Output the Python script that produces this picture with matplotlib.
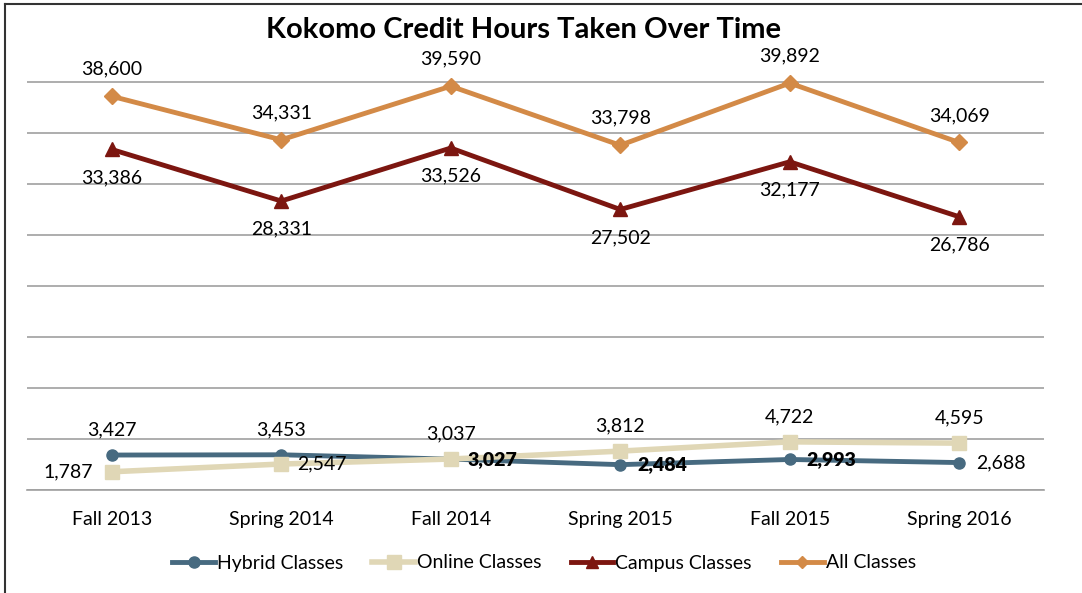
import matplotlib.pyplot as plt
from matplotlib.lines import Line2D

# terms and credit hours
terms = ["Fall 2013", "Spring 2014", "Fall 2014", "Spring 2015", "Fall 2015", "Spring 2016"]
hybrid = [3427, 3453, 3027, 2484, 2993, 2688]
online = [1787, 2547, 3037, 3812, 4722, 4595]
campus = [33386, 28331, 33526, 27502, 32177, 26786]
all_classes = [38600, 34331, 39590, 33798, 39892, 34069]

# where each data label sits: (dx px, dy px, ha, bold)
hybrid_pos = [(0, 25, "center", False), (0, 25, "center", False), (17, 0, "left", True),
              (17, 0, "left", True), (17, 0, "left", True), (17, 0, "left", False)]
online_pos = [(-19, 0, "right", False), (16, 0, "left", False), (0, 25, "center", False),
              (0, 25, "center", False), (0, 25, "center", False), (0, 25, "center", False)]

plt.rcParams['font.family'] = ['Lato', 'DejaVu Sans']

fig = plt.figure(figsize=(10.82, 5.93), dpi=100)
ax = fig.add_axes([27 / 1082, 1 - 490 / 593, (1044 - 27) / 1082, 459 / 593])

x = list(range(len(terms)))
c_h, c_o, c_c, c_a = "#476a80", "#e0d7b6", "#7c1610", "#d38a47"

ax.plot(x, hybrid, color=c_h, lw=3.5, marker="o", ms=8, zorder=3)
ax.plot(x, online, color=c_o, lw=4, marker="s", ms=10, zorder=4)
ax.plot(x, campus, color=c_c, lw=3.5, marker="^", ms=10, zorder=3)
ax.plot(x, all_classes, color=c_a, lw=3.5, marker="D", ms=8, zorder=3)

fs = 14
for i in x:
    ax.annotate(f"{all_classes[i]:,}", (i, all_classes[i]), xytext=(0, 27),
                textcoords="offset pixels", ha="center", va="center", fontsize=fs)
    ax.annotate(f"{campus[i]:,}", (i, campus[i]), xytext=(0, -28),
                textcoords="offset pixels", ha="center", va="center", fontsize=fs)
    dx, dy, ha, b = hybrid_pos[i]
    ax.annotate(f"{hybrid[i]:,}", (i, hybrid[i]), xytext=(dx, dy), textcoords="offset pixels",
                ha=ha, va="center", fontsize=fs, fontweight="heavy" if b else "normal", zorder=6)
    dx, dy, ha, b = online_pos[i]
    ax.annotate(f"{online[i]:,}", (i, online[i]), xytext=(dx, dy), textcoords="offset pixels",
                ha=ha, va="center", fontsize=fs, fontweight="heavy" if b else "normal", zorder=6)

ax.set_xlim(-0.5, 5.5)
ax.set_ylim(0, 45000)
ax.set_yticks(range(0, 40001, 5000))
ax.yaxis.grid(True, color="#a0a0a0", lw=1.2)
ax.set_axisbelow(True)
ax.set_yticklabels([])
ax.set_xticks(x)
ax.set_xticklabels(terms, fontsize=fs)
ax.tick_params(axis="both", length=0)
ax.tick_params(axis="x", pad=15)
for s in ["top", "left", "right"]:
    ax.spines[s].set_visible(False)
ax.spines["bottom"].set_color("#a0a0a0")
ax.spines["bottom"].set_linewidth(1.2)

fig.text(524 / 1082, 1 - 30 / 593, "Kokomo Credit Hours Taken Over Time",
         ha="center", va="center", fontsize=21, fontweight="bold")

handles = [
    Line2D([], [], color=c_h, lw=3.5, marker="o", ms=8),
    Line2D([], [], color=c_o, lw=4, marker="s", ms=10),
    Line2D([], [], color=c_c, lw=3.5, marker="^", ms=9),
    Line2D([], [], color=c_a, lw=3.5, marker="D", ms=6),
]
fig.legend(handles, ["Hybrid Classes", "Online Classes", "Campus Classes", "All Classes"],
           loc="center", bbox_to_anchor=(544 / 1082, 1 - 563 / 593), ncol=4, frameon=False,
           fontsize=fs, handlelength=2.2, handletextpad=0.1, columnspacing=1.5)

# border on top and left like the original screenshot
fig.add_artist(Line2D([5 / 1082, 1], [1 - 4 / 593, 1 - 4 / 593], color="#333333", lw=1.5))
fig.add_artist(Line2D([5 / 1082, 5 / 1082], [0, 1 - 4 / 593], color="#333333", lw=1.5))

fig.savefig("out.png", dpi=100)
